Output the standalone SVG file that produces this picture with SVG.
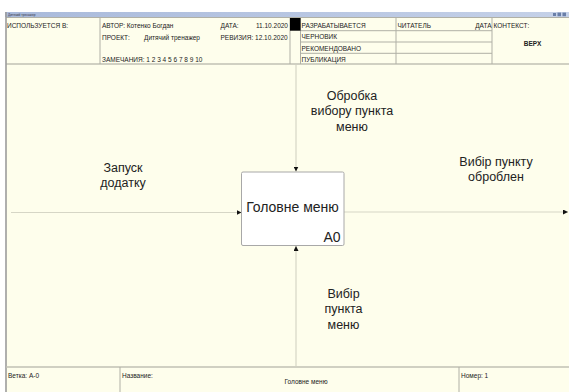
<svg xmlns="http://www.w3.org/2000/svg" width="569" height="392" viewBox="0 0 569 392">
  <style>
    .hdr { font-family: "Liberation Sans", Arial, sans-serif; font-size: 6.5px; fill: #222; }
    .lbl { font-family: "Liberation Sans", Arial, sans-serif; font-size: 12.5px; fill: #222; text-anchor: middle; }
    .grid { stroke: #B0B0A6; stroke-width: 1; fill: none; }
    .conn { stroke: #D6D6C6; stroke-width: 1.2; fill: none; }
  </style>
  <defs>
    <linearGradient id="titlebar" x1="0" y1="0" x2="1" y2="0">
      <stop offset="0" stop-color="#A9BADB"/>
      <stop offset="1" stop-color="#C5D1E8"/>
    </linearGradient>
    <marker id="arrow" viewBox="0 0 10 10" refX="10" refY="5" markerWidth="5" markerHeight="5" orient="auto" markerUnits="userSpaceOnUse">
      <path d="M0,0 L10,5 L0,10 Z" fill="#111"/>
    </marker>
  </defs>

  <!-- page background -->
  <rect x="0" y="0" width="569" height="392" fill="#FFFFFF"/>

  <!-- window title bar -->
  <rect x="5" y="12" width="564" height="5" fill="url(#titlebar)"/>
  <text x="8" y="15.8" font-family="Liberation Sans, Arial, sans-serif" font-size="3.2" fill="#334">Дитячий тренажер</text>
  <g fill="#6A7FA8">
    <rect x="553" y="13" width="3" height="3"/>
    <rect x="557.5" y="12.6" width="3.5" height="3.6"/>
    <rect x="562.5" y="12.6" width="3.5" height="3.6"/>
  </g>

  <!-- sheet background -->
  <rect x="6" y="17" width="563" height="375" fill="#FEFEEC"/>

  <!-- header frame -->
  <g id="header">
    <line class="grid" x1="6" y1="17.5" x2="569" y2="17.5"/>
    <line x1="6" y1="64" x2="569" y2="64" stroke="#C0C0B4" stroke-width="1.6"/>
    <line class="grid" x1="100" y1="17" x2="100" y2="64"/>
    <line class="grid" x1="290" y1="17" x2="290" y2="64"/>
    <line class="grid" x1="300.5" y1="17" x2="300.5" y2="64"/>
    <line class="grid" x1="396" y1="17" x2="396" y2="64"/>
    <line class="grid" x1="492" y1="17" x2="492" y2="64"/>
    <line class="grid" x1="300.5" y1="30.7" x2="492" y2="30.7"/>
    <line class="grid" x1="300.5" y1="42" x2="492" y2="42"/>
    <line class="grid" x1="300.5" y1="53.3" x2="492" y2="53.3"/>
    <rect x="290" y="18" width="10.5" height="12.7" fill="#000"/>

    <text class="hdr" x="7" y="27.5">ИСПОЛЬЗУЕТСЯ В:</text>
    <text class="hdr" x="102" y="27.5">АВТОР: Котенко Богдан</text>
    <text class="hdr" x="102" y="40">ПРОЕКТ:</text>
    <text class="hdr" x="144" y="40">Дитячий тренажер</text>
    <text class="hdr" x="102" y="61.5">ЗАМЕЧАНИЯ: 1 2 3 4 5 6 7 8 9 10</text>
    <text class="hdr" x="220.5" y="27.5">ДАТА:</text>
    <text class="hdr" x="288" y="27.5" text-anchor="end">11.10.2020</text>
    <text class="hdr" x="220.5" y="40">РЕВИЗИЯ: 12.10.2020</text>
    <text class="hdr" x="301.5" y="27.5">РАЗРАБАТЫВАЕТСЯ</text>
    <text class="hdr" x="301.5" y="39">ЧЕРНОВИК</text>
    <text class="hdr" x="301.5" y="50.5">РЕКОМЕНДОВАНО</text>
    <text class="hdr" x="301.5" y="61.5">ПУБЛИКАЦИЯ</text>
    <text class="hdr" x="397.5" y="27.5">ЧИТАТЕЛЬ</text>
    <text class="hdr" x="491.5" y="27.5" text-anchor="end">ДАТА</text>
    <text class="hdr" x="493.5" y="27.5">КОНТЕКСТ:</text>
    <text class="hdr" x="532.5" y="45.5" text-anchor="middle" font-weight="bold" font-size="7.5">ВЕРХ</text>
  </g>

  <!-- left edge of the sheet -->
  <line x1="6" y1="12" x2="6" y2="392" stroke="#9C9C9C" stroke-width="1.6"/>

  <!-- footer -->
  <g id="footer">
    <line x1="6" y1="367" x2="569" y2="367" stroke="#C0C0B4" stroke-width="1.6"/>
    <line class="grid" x1="120" y1="367" x2="120" y2="392"/>
    <line class="grid" x1="459" y1="367" x2="459" y2="392"/>
    <text class="hdr" x="8" y="377.5">Ветка: А-0</text>
    <text class="hdr" x="122" y="377.5">Название:</text>
    <text class="hdr" x="306" y="384" text-anchor="middle">Головне меню</text>
    <text class="hdr" x="461" y="377.5">Номер: 1</text>
  </g>

  <!-- connectors -->
  <g id="connectors">
    <line class="conn" x1="11" y1="212.5" x2="241.5" y2="212.5" marker-end="url(#arrow)"/>
    <line class="conn" x1="344" y1="212" x2="568" y2="212" marker-end="url(#arrow)"/>
    <line class="conn" x1="296" y1="65" x2="296" y2="171.5" marker-end="url(#arrow)"/>
    <line class="conn" x1="296" y1="366" x2="296" y2="246" marker-end="url(#arrow)"/>
  </g>

  <!-- arrow labels -->
  <g id="label-input">
    <text class="lbl" x="123" y="172">Запуск</text>
    <text class="lbl" x="123" y="187">додатку</text>
  </g>
  <g id="label-control">
    <text class="lbl" x="352" y="99.5">Обробка</text>
    <text class="lbl" x="352" y="115">вибору пункта</text>
    <text class="lbl" x="352" y="130.5">меню</text>
  </g>
  <g id="label-output">
    <text class="lbl" x="496" y="166">Вибір пункту</text>
    <text class="lbl" x="496" y="181">оброблен</text>
  </g>
  <g id="label-mechanism">
    <text class="lbl" x="343.5" y="298">Вибір</text>
    <text class="lbl" x="343.5" y="313.3">пункта</text>
    <text class="lbl" x="343.5" y="328.6">меню</text>
  </g>

  <!-- activity box -->
  <g id="node-A0">
    <rect x="241.5" y="172" width="102.5" height="73.5" rx="1.5" fill="#FFFFFF" stroke="#A8A8A8" stroke-width="1"/>
    <text x="292.5" y="212" font-family="Liberation Sans, Arial, sans-serif" font-size="14" fill="#222" text-anchor="middle">Головне меню</text>
    <text x="340.5" y="242" font-family="Liberation Sans, Arial, sans-serif" font-size="14" fill="#222" text-anchor="end">A0</text>
  </g>
</svg>
